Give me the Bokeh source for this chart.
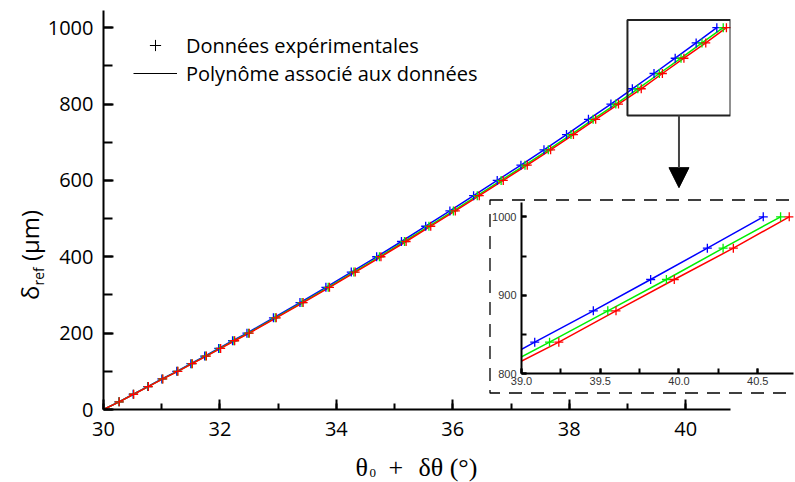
from bokeh.plotting import figure
from bokeh.models import (Range1d, SingleIntervalTicker, NumeralTickFormatter, Legend,
                          LegendItem, Label, BoxAnnotation, Arrow, NormalHead, Div)
from bokeh.embed import file_html
from bokeh.resources import INLINE

# ---------------- data ----------------
delta_um = [20, 40, 60, 80, 100, 120, 140, 160, 180, 200,
            240, 280, 320, 360, 400, 440, 480, 520, 560, 600,
            640, 680, 720, 760, 800, 840, 880, 920, 960, 1000]
theta_blue = [30.265, 30.510, 30.758, 31.002, 31.258, 31.500, 31.738, 31.979, 32.217, 32.464,
              32.919, 33.375, 33.820, 34.256, 34.692, 35.118, 35.534, 35.950, 36.357, 36.763,
              37.170, 37.566, 37.953, 38.330, 38.716, 39.084, 39.456, 39.820, 40.180, 40.535]
theta_green = [30.268, 30.515, 30.766, 31.013, 31.271, 31.516, 31.757, 32.000, 32.240, 32.490,
               32.950, 33.410, 33.860, 34.300, 34.740, 35.170, 35.590, 36.010, 36.420, 36.830,
               37.240, 37.640, 38.030, 38.410, 38.800, 39.178, 39.548, 39.920, 40.280, 40.645]
theta_red = [30.270, 30.518, 30.770, 31.019, 31.278, 31.525, 31.767, 32.012, 32.253, 32.504,
             32.967, 33.429, 33.882, 34.324, 34.766, 35.198, 35.621, 36.043, 36.455, 36.867,
             37.279, 37.680, 38.072, 38.454, 38.846, 39.237, 39.600, 39.970, 40.345, 40.700]
origin_theta = 30.0     # fitted polynomials start at the origin
origin_delta = 0
series_colors = ["#0000ff", "#00ee00", "#ff0000"]
legend_labels = ["Données expérimentales", "Polynôme associé aux données"]
x_major_step = 2
y_major_step = 200
inset_x_step = 0.5
inset_y_step = 100
zoom_box_x = [39.0, 40.77]
zoom_box_y = [770, 1020]
arrow_end_delta = 581

SANS = "Open Sans"
SERIF = "Liberation Serif"
NAN = float("nan")
W, H = 795, 482


def style_axis(ax, font, size, tick_in, minor_in, standoff, lw, color="black"):
    ax.axis_line_width = lw
    ax.axis_line_color = "black"
    ax.major_tick_in = tick_in
    ax.major_tick_out = 0
    ax.minor_tick_in = minor_in
    ax.minor_tick_out = 0
    ax.major_tick_line_width = lw
    ax.minor_tick_line_width = lw
    ax.major_tick_line_color = "black"
    ax.minor_tick_line_color = "black"
    ax.major_label_text_font = font
    ax.major_label_text_font_size = size
    ax.major_label_text_color = color
    ax.major_label_standoff = standoff
    ax.axis_label = None


# ---------------- main figure ----------------
p = figure(width=W, height=H, x_range=Range1d(30, 40.77), y_range=Range1d(0, 1045),
           output_backend="svg", toolbar_location=None, name="main",
           min_border_left=103, min_border_right=65, min_border_top=10, min_border_bottom=73)
p.outline_line_color = None
p.grid.visible = False
p.background_fill_color = "white"
p.border_fill_color = "white"
p.xaxis.ticker = SingleIntervalTicker(interval=x_major_step, num_minor_ticks=2)
p.yaxis.ticker = SingleIntervalTicker(interval=y_major_step, num_minor_ticks=2)
for ax in p.xaxis:
    style_axis(ax, SANS, "20px", 10, 6, 12, 2)
for ax in p.yaxis:
    style_axis(ax, SANS, "20px", 10, 9, 10, 2)

all_theta = [theta_blue, theta_green, theta_red]
for th, col in zip(all_theta, series_colors):
    p.line([origin_theta] + th, [origin_delta] + delta_um, line_color=col, line_width=1.5)
for th, col in zip(all_theta, series_colors):
    p.scatter(th, delta_um, marker="cross", size=9, line_color=col, line_width=1.3)

# legend (black symbols; the legend-only renderers hold no visible point)
r_pts = p.scatter([NAN], [NAN], marker="cross", size=8, line_color="black", line_width=1)
r_line = p.line([NAN], [NAN], line_color="black", line_width=1)
legend = Legend(items=[LegendItem(label=legend_labels[0], renderers=[r_pts]),
                       LegendItem(label=legend_labels[1], renderers=[r_line])],
                location=(30, 322), glyph_width=44, glyph_height=28, label_height=28,
                label_standoff=9, spacing=0, padding=0, margin=0,
                border_line_color=None, background_fill_alpha=0,
                label_text_font=SANS, label_text_font_size="20px", label_text_color="black")
p.add_layout(legend)

# zoom box and arrow
p.add_layout(BoxAnnotation(left=zoom_box_x[0], right=zoom_box_x[1], bottom=zoom_box_y[0],
                           top=zoom_box_y[1], fill_color=None, fill_alpha=0,
                           line_color="#222222", line_alpha=1.0, line_width=2))
xmid = (zoom_box_x[0] + zoom_box_x[1]) / 2
p.add_layout(Arrow(end=NormalHead(size=20, fill_color="black", line_color="black"),
                   x_start=xmid, y_start=zoom_box_y[0], x_end=xmid, y_end=arrow_end_delta,
                   line_color="#444444", line_width=2))

# ---------------- inset figure ----------------
ins = figure(width=306, height=193, x_range=Range1d(39.0, 40.727), y_range=Range1d(800, 1018.3),
             output_backend="svg", toolbar_location=None, name="inset",
             min_border_left=30, min_border_right=2, min_border_top=3, min_border_bottom=19)
ins.outline_line_color = None
ins.grid.visible = False
ins.background_fill_color = "white"
ins.border_fill_color = "white"
ins.xaxis.ticker = SingleIntervalTicker(interval=inset_x_step, num_minor_ticks=2)
ins.yaxis.ticker = SingleIntervalTicker(interval=inset_y_step, num_minor_ticks=2)
ins.xaxis.formatter = NumeralTickFormatter(format="0.0")
for ax in ins.xaxis:
    style_axis(ax, "Liberation Sans", "11px", 5, 5, 3, 2, "#333333")
for ax in ins.yaxis:
    style_axis(ax, "Liberation Sans", "11px", 5, 5, 5, 2, "#333333")
for th, col in zip(all_theta, series_colors):
    ins.line([origin_theta] + th, [origin_delta] + delta_um, line_color=col, line_width=1.5)
for th, col in zip(all_theta, series_colors):
    ins.scatter(th, delta_um, marker="cross", size=9, line_color=col, line_width=1.3)


def blank_canvas(name, width, height):
    f = figure(width=width, height=height, x_range=Range1d(0, width), y_range=Range1d(0, height),
               x_axis_type=None, y_axis_type=None, output_backend="svg",
               toolbar_location=None, name=name, min_border=0)
    f.outline_line_color = None
    f.grid.visible = False
    f.background_fill_color = None
    f.border_fill_color = None
    return f


def add_text(f, x, y_top, text, font, size):
    """x, y_top measured from the canvas's top-left corner."""
    f.add_layout(Label(x=x, y=f.height - y_top, text=text, text_font=font,
                       text_font_size=size, text_align="left",
                       text_baseline="alphabetic", text_color="black"))


# ---------------- transparent overlay (page pixel coordinates) ----------------
ov = blank_canvas("overlay", W, H)
# x axis title composed of pieces (for the subscript)
add_text(ov, 355, 467, "θ", SERIF, "26px")
add_text(ov, 369, 472, "0", SERIF, "13px")
add_text(ov, 388, 467, "+", SERIF, "26px")
add_text(ov, 418, 467, "δθ (°)", SERIF, "26px")
# dashed frame around the inset (open on the right, beyond the page edge)
ov.add_layout(BoxAnnotation(left=489.5, right=W + 10, top=H - 199.5, bottom=H - 392.5,
                            fill_color=None, fill_alpha=0, line_color="#000000",
                            line_alpha=1.0, line_width=1.3, line_dash="13 9"))

# ---------------- y axis title: HTML text, turned a quarter by the page ----------------
yt = Div(name="ytitle", width=112, height=44,
         text=('<div style="padding:13px 0 0 5px; font-family:\'Open Sans\'; font-size:24px; '
               'line-height:1; white-space:nowrap; color:black;">δ<span style="font-size:14px; '
               'position:relative; top:5px;">ref</span> (µm)</div>'))

TEMPLATE = """
{% block postamble %}
<style>
html, body { margin: 0 !important; padding: 0 !important; overflow: hidden; background: white; }
</style>
{% endblock %}
{% block contents %}
{% from macros import embed %}
<div style="position:absolute; left:0px; top:0px;">{{ embed(roots.main) }}</div>
<div style="position:absolute; left:489px; top:199px;">{{ embed(roots.inset) }}</div>
<div style="position:absolute; left:0px; top:0px; pointer-events:none;">{{ embed(roots.overlay) }}</div>
<div style="position:absolute; left:0px; top:310px; width:112px; height:44px; transform:rotate(-90deg); transform-origin:0 0; pointer-events:none;">{{ embed(roots.ytitle) }}</div>
{% endblock %}
"""

html = file_html([p, ins, ov, yt], INLINE, title="delta_ref", template=TEMPLATE)
open("out.html", "w").write(html)
